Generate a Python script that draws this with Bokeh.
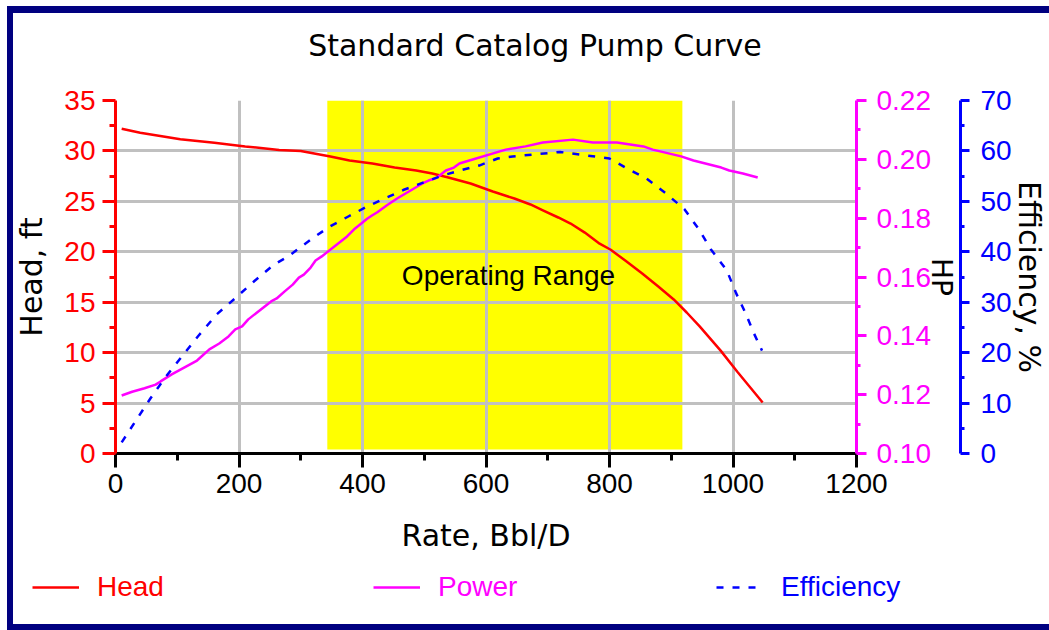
from bokeh.plotting import figure
from bokeh.layouts import column
from bokeh.models import (Range1d, LinearAxis, FixedTicker, PrintfTickFormatter,
                          Label, Legend, LegendItem)
from bokeh.embed import file_html
from bokeh.resources import INLINE

# ---------------- data ----------------
head_rate = [10, 40, 70, 105, 160, 210, 265, 300, 348, 379, 416, 452, 487, 513, 539,
             575, 611, 646, 672, 693, 717, 737, 760, 784, 802, 826, 853, 879, 904,
             925, 946, 980, 1007, 1032, 1048]
head_ft = [32.2, 31.8, 31.5, 31.15, 30.8, 30.45, 30.1, 30.0, 29.45, 29.05, 28.75, 28.36,
           28.06, 27.76, 27.37, 26.77, 25.98, 25.28, 24.69, 24.09, 23.4, 22.8, 21.9,
           20.8, 20.2, 19.1, 17.85, 16.56, 15.27, 13.98, 12.6, 10.2, 8.1, 6.25, 5.06]

power_rate = [10, 27, 47, 65, 73, 91, 132, 152, 168, 183, 194, 205, 215, 252, 261, 274,
              287, 297, 305, 316, 324, 334, 375, 388, 400, 408, 416, 424, 439, 456, 497,
              507, 521, 535, 548, 557, 573, 632, 664, 692, 741, 773, 812, 855, 870, 916,
              936, 981, 994, 1016, 1040]
power_hp = [0.1197, 0.1210, 0.1222, 0.1234, 0.1245, 0.1269, 0.1316, 0.1354, 0.1374,
            0.1398, 0.1422, 0.1432, 0.1456, 0.1517, 0.1527, 0.1551, 0.1574, 0.1598,
            0.1608, 0.1632, 0.1656, 0.1670, 0.1738, 0.1765, 0.1785, 0.1799, 0.1810,
            0.1820, 0.1843, 0.1867, 0.1918, 0.1928, 0.1938, 0.1962, 0.1972, 0.1986,
            0.1996, 0.2033, 0.2044, 0.2057, 0.2067, 0.2057, 0.2057, 0.2044, 0.2033,
            0.2010, 0.1996, 0.1972, 0.1962, 0.1952, 0.1938]

eff_rate = [10, 35, 57, 82, 106, 134, 164, 193, 225, 256, 280, 317, 347, 377, 408, 440,
            467, 498, 529, 557, 589, 619, 643, 720, 800, 830, 860, 890, 921, 945, 964,
            990, 1005, 1020, 1034, 1047]
eff_pct = [2.2, 6.9, 11.0, 15.3, 19.0, 23.3, 27.6, 30.7, 34.2, 37.4, 39.1, 42.5, 45.0,
           47.0, 49.0, 50.8, 52.3, 53.7, 55.1, 56.1, 57.1, 58.5, 58.9, 59.8, 58.5, 56.4,
           54.5, 51.7, 48.5, 44.4, 40.5, 36.3, 31.8, 27.9, 23.8, 20.4]

operating_range = [343, 918]

x_ticks = [0, 200, 400, 600, 800, 1000, 1200]
x_minor = [100, 300, 500, 700, 900, 1100]
head_ticks = [0, 5, 10, 15, 20, 25, 30, 35]
head_minor = [2.5, 7.5, 12.5, 17.5, 22.5, 27.5, 32.5]
power_ticks = [0.10, 0.12, 0.14, 0.16, 0.18, 0.20, 0.22]
power_minor = [0.11, 0.13, 0.15, 0.17, 0.19, 0.21]
eff_ticks = [0, 10, 20, 30, 40, 50, 60, 70]
eff_minor = [5, 15, 25, 35, 45, 55, 65]

series_names = ["Head", "Power", "Efficiency"]
chart_title = "Standard Catalog Pump Curve"

FONT = "Liberation Sans"
LABEL_FONT = "DejaVu Sans"
RED, MAG, BLUE = "#ff0000", "#ff00ff", "#0000ff"
GRID = "#c0c0c0"


def strip(height, shadow, y0=0):
    f = figure(width=1049, height=height, output_backend="svg", toolbar_location=None,
               title=None,
               x_range=Range1d(0, 1049), y_range=Range1d(y0, y0 + height),
               x_axis_location=None, y_axis_location=None,
               min_border_left=0, min_border_right=0, min_border_top=0,
               min_border_bottom=0)
    f.frame_align = False
    f.border_fill_alpha = 0
    f.background_fill_alpha = 0
    f.outline_line_color = None
    f.xgrid.visible = False
    f.ygrid.visible = False
    f.styles = {"box-shadow": shadow}
    return f


# ---------------- title strip ----------------
title_fig = strip(75, "inset 0 6px 0 0 #ffffff, inset 7px 0 0 0 #ffffff, "
                      "inset 0 13px 0 0 #000080, inset 13px 0 0 0 #000080")
title_fig.add_layout(Label(x=534.5, y=30, text=chart_title, text_font=LABEL_FONT,
                           text_font_size="30px", text_color="black",
                           text_align="center", text_baseline="middle"))

# ---------------- main chart ----------------
p = figure(width=1049, height=485, output_backend="svg", toolbar_location=None,
           title=None,
           x_range=Range1d(0, 1200), y_range=Range1d(0, 35),
           min_border_left=115, min_border_right=193, min_border_top=25,
           min_border_bottom=107)
p.frame_align = False
p.border_fill_alpha = 0
p.background_fill_color = "white"
p.outline_line_color = None
p.styles = {"box-shadow": "inset 7px 0 0 0 #ffffff, inset 13px 0 0 0 #000080"}
p.extra_y_ranges = {"power": Range1d(0.10, 0.22), "eff": Range1d(0, 70)}

# grid
p.xgrid.ticker = FixedTicker(ticks=x_ticks)
p.ygrid.ticker = FixedTicker(ticks=head_ticks)
for g in (p.xgrid, p.ygrid):
    g.grid_line_color = GRID
    g.grid_line_width = 3

# operating range band (under grid)
p.quad(left=[operating_range[0]], right=[operating_range[1]], bottom=[0.4], top=[35],
       fill_color="#ffff00", line_color=None, level="image")

r_head = p.line(head_rate, head_ft, line_color=RED, line_width=2.5)
r_pow = p.line(power_rate, power_hp, line_color=MAG, line_width=2.5, y_range_name="power")
r_eff = p.line(eff_rate, eff_pct, line_color=BLUE, line_width=2.5, line_dash="7 9",
               y_range_name="eff")


def style_axis(ax, color, tick_out, minor_out, standoff):
    ax.axis_line_color = color
    ax.axis_line_width = 3
    ax.major_tick_line_color = color
    ax.major_tick_line_width = 3
    ax.minor_tick_line_color = color
    ax.minor_tick_line_width = 3
    ax.major_tick_in = 0
    ax.major_tick_out = tick_out
    ax.minor_tick_in = 0
    ax.minor_tick_out = minor_out
    ax.major_label_text_font = FONT
    ax.major_label_text_font_size = "28px"
    ax.major_label_text_color = color
    ax.major_label_standoff = standoff
    ax.axis_label_text_font = LABEL_FONT
    ax.axis_label_text_font_style = "normal"
    ax.axis_label_text_color = "black"
    ax.axis_label_text_font_size = "30px"


# x axis
xa = p.xaxis[0]
xa.ticker = FixedTicker(ticks=x_ticks, minor_ticks=x_minor)
style_axis(xa, "black", 14, 7, 6)
xa.axis_label = "Rate, Bbl/D"
xa.axis_label_standoff = 22

# head axis
ya = p.yaxis[0]
ya.ticker = FixedTicker(ticks=head_ticks, minor_ticks=head_minor)
style_axis(ya, RED, 13, 6, 7)
ya.axis_label = "Head, ft"
ya.axis_label_standoff = 12

# power axis
pa = LinearAxis(y_range_name="power",
                ticker=FixedTicker(ticks=power_ticks, minor_ticks=power_minor),
                formatter=PrintfTickFormatter(format="%.2f"))
style_axis(pa, MAG, 10, 4, 10)
pa.axis_label = "HP"
pa.axis_label_text_font_size = "28px"
pa.axis_label_standoff = -9
p.add_layout(pa, "right")

# efficiency axis
ea = LinearAxis(y_range_name="eff",
                ticker=FixedTicker(ticks=eff_ticks, minor_ticks=eff_minor))
style_axis(ea, BLUE, 9, 4, 11)
ea.axis_label = "Efficiency, %"
ea.axis_label_standoff = -3
p.add_layout(ea, "right")

p.add_layout(Label(x=636.4, y=17.65, text="Operating Range",
                   text_font=FONT, text_font_size="28px", text_color="black",
                   text_align="center", text_baseline="alphabetic"))

# ---------------- legend strip ----------------
# proxy series for the legend keys; the strip's y range keeps them out of view
lg_fig = strip(70, "inset 7px 0 0 0 #ffffff, inset 13px 0 0 0 #000080, "
                   "inset 0 -6px 0 0 #000080", y0=1000)
lg_head = lg_fig.line(head_rate, head_ft, line_color=RED, line_width=2.5)
lg_pow = lg_fig.line(power_rate, power_hp, line_color=MAG, line_width=2.5)
lg_eff = lg_fig.line(eff_rate, eff_pct, line_color=BLUE, line_width=2.5, line_dash="7 9")

for rend, name, color, xloc in ((lg_head, series_names[0], RED, 32),
                                (lg_pow, series_names[1], MAG, 373),
                                (lg_eff, series_names[2], BLUE, 716)):
    lg = Legend(items=[LegendItem(label=name, renderers=[rend])],
                location=(xloc, 27), orientation="horizontal",
                glyph_width=47, glyph_height=30, label_height=30,
                label_standoff=18, padding=0, margin=0, spacing=0,
                border_line_alpha=0, background_fill_alpha=0,
                label_text_font=FONT, label_text_font_size="28px",
                label_text_color=color)
    lg_fig.add_layout(lg, "center")

layout = column(title_fig, p, lg_fig, spacing=0)
open("out.html", "w").write(file_html(layout, INLINE))
